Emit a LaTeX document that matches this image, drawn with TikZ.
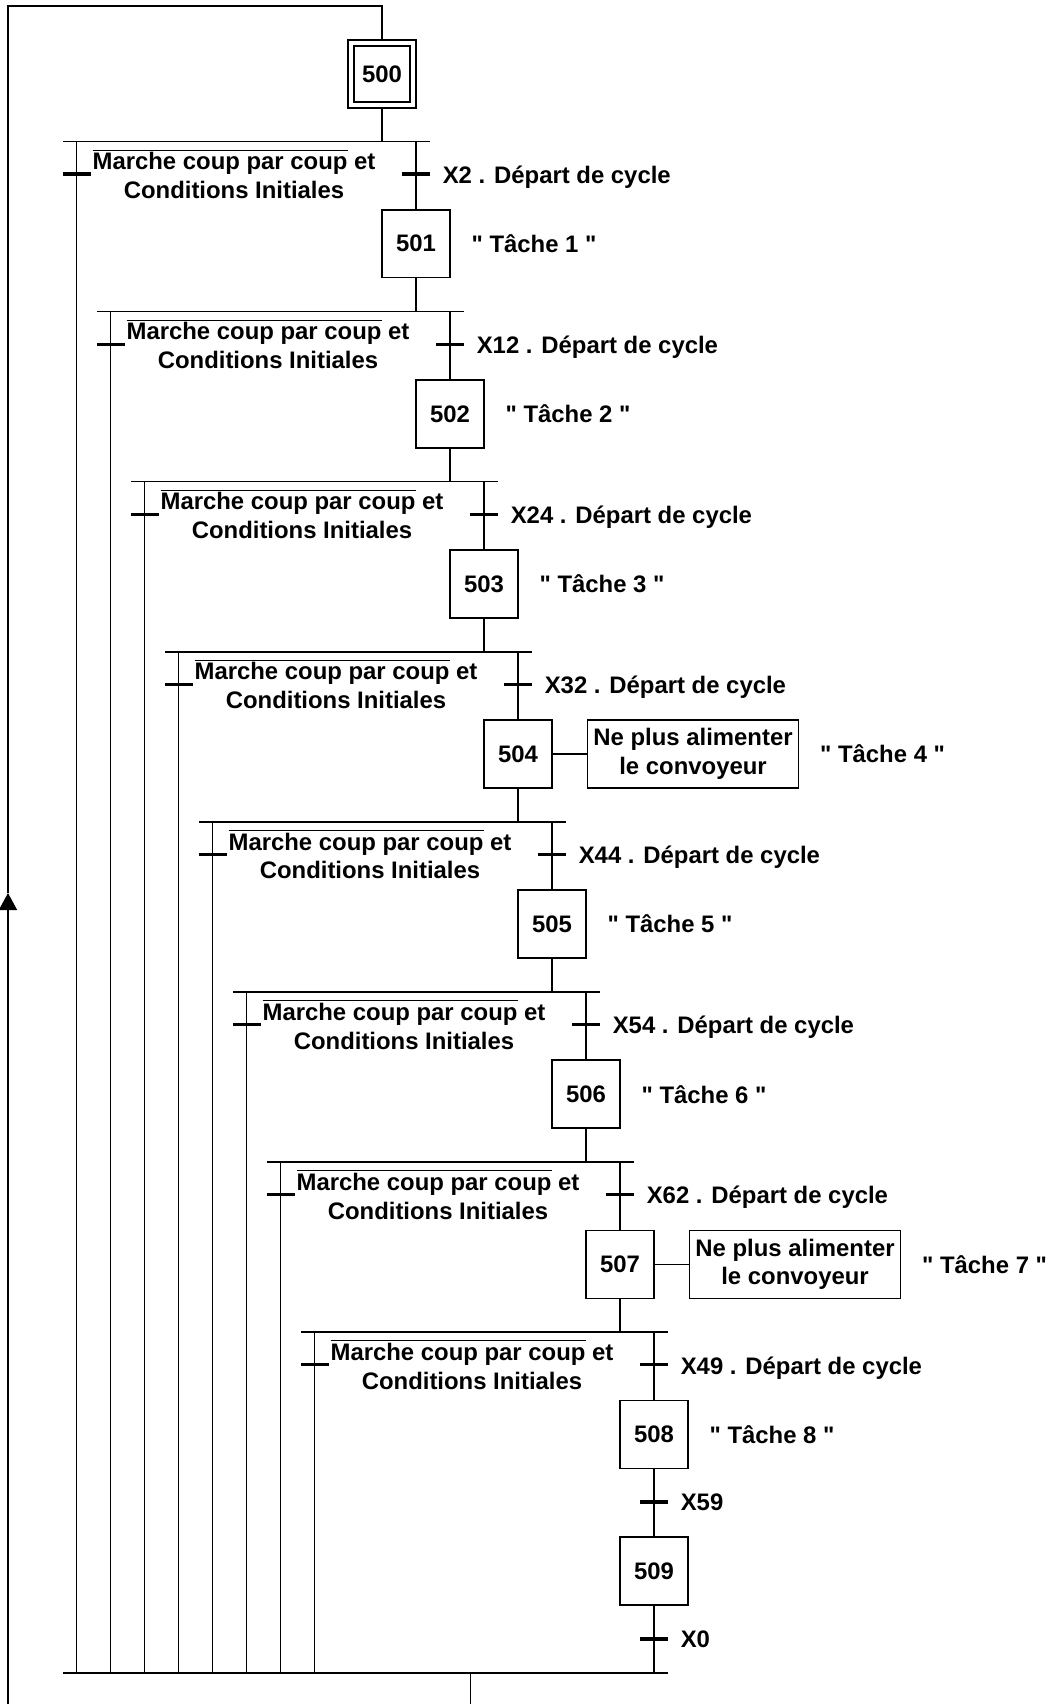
\documentclass[tikz,border=0pt]{standalone}
\usepackage{fontspec}
\setmainfont{Liberation Sans}[Ligatures=TeXOff]
\usetikzlibrary{positioning, arrows.meta}

\tikzset{
  etape/.style={draw, minimum size=1.36cm, inner sep=0pt},
  init/.style={draw, double, double distance=0.088cm, minimum size=1.24cm,
    inner sep=0pt, outer sep=0.075cm},
  recept/.style={fill=black, minimum width=0.56cm, minimum height=0.065cm,
    inner sep=0pt, outer sep=0pt},
  action/.style={draw, minimum width=4.22cm, minimum height=1.36cm,
    inner sep=0pt, align=center},
  cond/.style={align=center, inner sep=0pt, anchor=base},
  lbl/.style={inner sep=0pt},
  tlbl/.style={inner sep=0pt, yshift=-0.06cm}
}

\begin{document}
\begin{tikzpicture}[x=0.02cm, y=-0.02cm, line width=0.9pt,
    every node/.style={font=\bfseries\fontsize{13.6pt}{16.4pt}\selectfont}]
  \useasboundingbox (0,0) rectangle (1050,1704);

  % retour vers l'etape initiale
  \coordinate (lb) at (8,1704);
  \coordinate (lm) at (8,893);
  \coordinate (lt) at (8,6);
  \coordinate (cl) at (63,1673);
  \coordinate (cr) at (668,1673);
  \coordinate (out) at (470.7,1704);

  \node[init] (s500) at (382,74) {500};
  \draw[-{Triangle[length=0.34cm, width=0.36cm]}] (lb) -- (lm);
  \draw (lm) -- (lt) -| (s500);

  % une divergence en OU par tache
  \foreach \k/\tr in {0/X2, 1/X12, 2/X24, 3/X32, 4/X44, 5/X54, 6/X62, 7/X49}{
    \pgfmathtruncatemacro\n{501+\k}
    \pgfmathtruncatemacro\p{500+\k}
    \coordinate (dl\n) at ({63+34*\k},{141.5+170.1*\k});
    \coordinate (dr\n) at ({430+34*\k},{141.5+170.1*\k});
    \node[etape] (s\n) at ({416+34*\k},{243.7+170.1*\k}) {\n};
    \node[recept] (tl\n) at ({76.7+34*\k},{174.1+170.1*\k}) {};
    \node[recept] (tr\n) at ({416+34*\k},{174.1+170.1*\k}) {};
    \node[cond] at ({234+34*\k},{198.5+170.1*\k})
      {$\overline{\mbox{Marche coup par coup}}$ et\\Conditions Initiales};
    \node[tlbl, right=0.24cm of tr\n] {\tr{} . Départ de cycle};
    \draw (dl\n) -- (dr\n);
    \draw (s\p) -- (s\p |- dl\n);
    \draw (tr\n |- dl\n) -- (s\n);
    \draw (tl\n |- dl\n) -- (tl\n |- cl);
  }

  \node[action, right=0.68cm of s504] (a504) {Ne plus alimenter\\le convoyeur};
  \node[action, right=0.68cm of s507] (a507) {Ne plus alimenter\\le convoyeur};
  \draw (s504) -- (a504);
  \draw (s507) -- (a507);

  \foreach \n/\at in {501/s501, 502/s502, 503/s503, 504/a504,
                      505/s505, 506/s506, 507/a507, 508/s508}{
    \pgfmathtruncatemacro\tnum{\n-500}
    \node[lbl, right=0.4cm of \at] {" Tâche \tnum{} "};
  }

  % fin de cycle
  \node[etape] (s509) at (654,1571) {509};
  \node[recept] (t59) at (654,1502) {};
  \node[recept] (t0) at (654,1639) {};
  \node[lbl, right=0.24cm of t59] {X59};
  \node[lbl, right=0.24cm of t0] {X0};
  \draw (s508) -- (s509);
  \draw (s509) -- (s509 |- cl);

  \draw (cl) -- (cr);
  \draw (out |- cl) -- (out);
\end{tikzpicture}
\end{document}
